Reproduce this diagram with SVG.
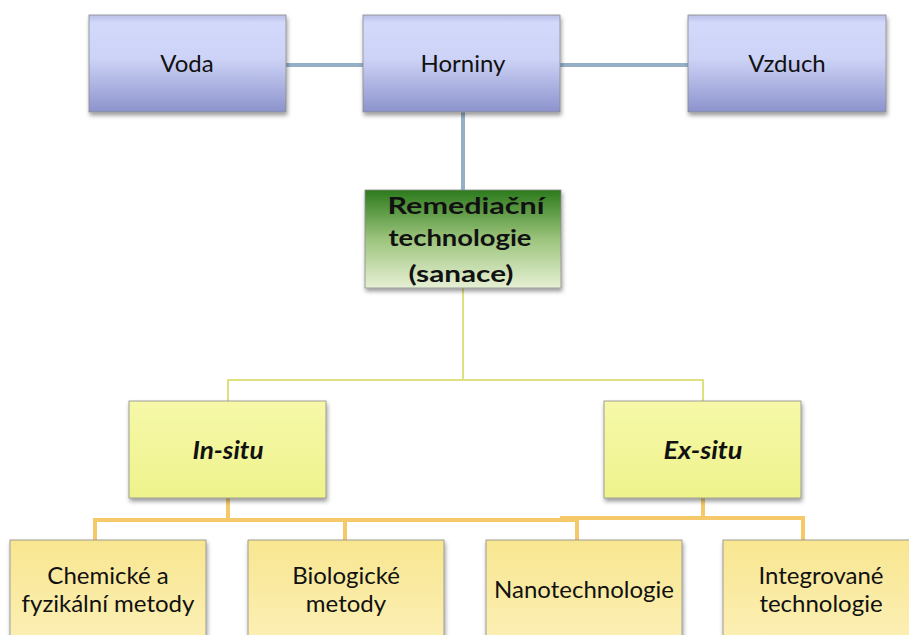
<svg xmlns="http://www.w3.org/2000/svg" width="909" height="635" viewBox="0 0 909 635">
<defs>
<linearGradient id="gBlue" x1="0" y1="0" x2="0" y2="1">
<stop offset="0" stop-color="#b8bfe6"/>
<stop offset="0.08" stop-color="#d3d9fb"/>
<stop offset="0.45" stop-color="#cdd3f6"/>
<stop offset="1" stop-color="#8c93cc"/>
</linearGradient>
<linearGradient id="gGreen" x1="0" y1="0" x2="0" y2="1">
<stop offset="0" stop-color="#2c7a1c"/>
<stop offset="0.5" stop-color="#9cc47c"/>
<stop offset="1" stop-color="#e6f0d4"/>
</linearGradient>
<linearGradient id="gYellow" x1="0" y1="0" x2="0" y2="1">
<stop offset="0" stop-color="#f6f8a8"/>
<stop offset="1" stop-color="#eef38c"/>
</linearGradient>
<linearGradient id="gOrange" x1="0" y1="0" x2="0" y2="1">
<stop offset="0" stop-color="#f8e690"/>
<stop offset="1" stop-color="#fcf0b8"/>
</linearGradient>
<filter id="sh" x="-10%" y="-10%" width="125%" height="130%">
<feDropShadow dx="1" dy="3" stdDeviation="2" flood-color="#000" flood-opacity="0.4"/>
</filter>
</defs>
<style>
.box{filter:url(#sh);stroke:#8a8a8a;stroke-width:0.8}
.blue{fill:url(#gBlue)}
.green{fill:url(#gGreen)}
.yel{fill:url(#gYellow)}
.ora{fill:url(#gOrange)}
text{font-family:Lato,"Liberation Sans",sans-serif;fill:#111;text-anchor:middle}
.t{font-size:24px}
.b{font-size:23px;font-weight:bold}
.bi{font-size:24px;font-weight:bold;font-style:italic}
.lb{stroke:#95afc6;stroke-width:4;fill:none}
.ly{stroke:#dfe080;stroke-width:2;fill:none}
.lo{stroke:#f5c96a;stroke-width:4;fill:none}
</style>
<g id="connectors">
<path class="lb" d="M286,65 H363 M560,65 H688 M463,112 V190"/>
<path class="ly" d="M463,288 V380 M228,401 V380 H703 V401"/>
<path class="lo" d="M228,498 V520 M95,540 V520 H577 M345,520 V540"/>
<path class="lo" d="M703,498 V518 H803 V540 M577,518 V540 M560,518 H703"/>
</g>
<g id="voda"><rect class="box blue" x="89" y="15" width="197" height="97"/><text class="t" x="187" y="72">Voda</text></g>
<g id="horniny"><rect class="box blue" x="363" y="15" width="197" height="97"/><text class="t" x="463" y="72">Horniny</text></g>
<g id="vzduch"><rect class="box blue" x="688" y="15" width="198" height="97"/><text class="t" x="787" y="72">Vzduch</text></g>
<g id="remediace"><rect class="box green" x="365" y="190" width="196" height="98"/>
<text class="b" x="466" y="214" textLength="157" lengthAdjust="spacingAndGlyphs">Remediační</text>
<text class="b" x="460" y="246" textLength="143" lengthAdjust="spacingAndGlyphs">technologie</text>
<text class="b" x="461" y="282" textLength="105" lengthAdjust="spacingAndGlyphs">(sanace)</text></g>
<g id="insitu"><rect class="box yel" x="129" y="401" width="197" height="97"/><text class="bi" x="228" y="459" textLength="71" lengthAdjust="spacingAndGlyphs">In-situ</text></g>
<g id="exsitu"><rect class="box yel" x="604" y="401" width="197" height="97"/><text class="bi" x="703" y="459" textLength="79" lengthAdjust="spacingAndGlyphs">Ex-situ</text></g>
<g id="chemicke"><rect class="box ora" x="10" y="540" width="196" height="110"/>
<text class="t" x="108" y="584">Chemické a</text><text class="t" x="108" y="612">fyzikální metody</text></g>
<g id="biologicke"><rect class="box ora" x="248" y="540" width="196" height="110"/>
<text class="t" x="346" y="584">Biologické</text><text class="t" x="346" y="612">metody</text></g>
<g id="nano"><rect class="box ora" x="486" y="540" width="196" height="110"/>
<text class="t" x="584" y="598">Nanotechnologie</text></g>
<g id="integrovane"><rect class="box ora" x="723" y="540" width="196" height="110"/>
<text class="t" x="821" y="584">Integrované</text><text class="t" x="821" y="612">technologie</text></g>
</svg>
